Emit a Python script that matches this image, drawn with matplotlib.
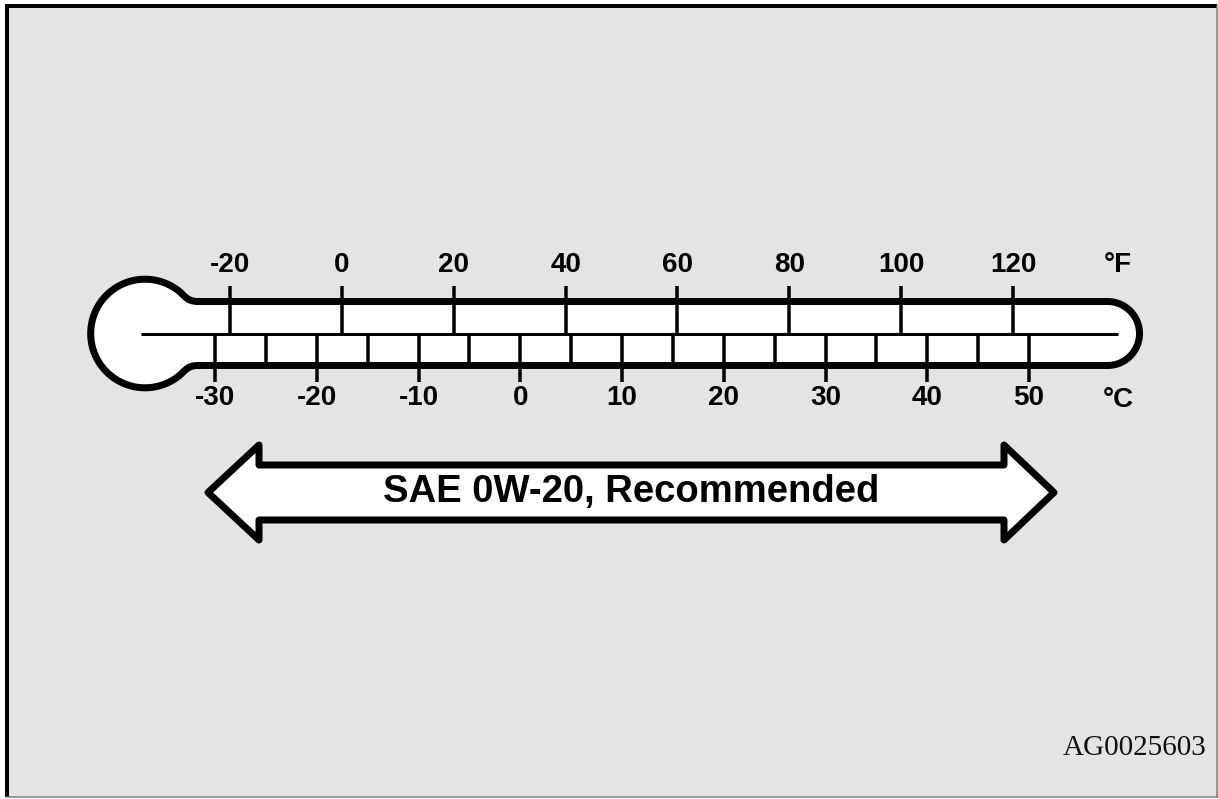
import numpy as np
import matplotlib
matplotlib.use("Agg")
import matplotlib.pyplot as plt
from matplotlib.path import Path
from matplotlib.patches import PathPatch, Rectangle, Polygon

# ---- data ----
fahrenheit_ticks = [-20, 0, 20, 40, 60, 80, 100, 120]
celsius_ticks = [-30, -25, -20, -15, -10, -5, 0, 5, 10, 15, 20, 25, 30, 35, 40, 45, 50]
celsius_labels = [-30, -20, -10, 0, 10, 20, 30, 40, 50]
unit_top = "°F"
unit_bottom = "°C"
arrow_text = "SAE 0W-20, Recommended"
code_text = "AG0025603"

# ---- scales (pixel positions of the scales on the drawing) ----
def f_to_x(f):
    return 230 + (f + 20) * 5.593

def c_to_x(c):
    return 215 + (c + 30) * 10.175

PX = 0.72  # px -> pt at dpi 100
FONT = "Liberation Sans"
BG = "#e4e4e4"
LABEL_SIZE = 20

fig = plt.figure(figsize=(12.18, 7.99), dpi=100)
fig.patch.set_facecolor("white")
ax = fig.add_axes([0, 0, 1, 1])
ax.set_xlim(0, 1218)
ax.set_ylim(799, 0)
ax.axis("off")

# background panel and border
ax.add_patch(Rectangle((7, 6), 1209.5, 790.7, facecolor=BG, edgecolor="none", zorder=0))
ax.plot([7, 7], [4, 797], color="black", lw=4 * PX, solid_capstyle="butt", zorder=1)
ax.plot([5, 1217], [6, 6], color="black", lw=4 * PX, solid_capstyle="butt", zorder=1)
ax.plot([1216.8, 1216.8], [6, 797], color="#7a7a7a", lw=1.5 * PX, zorder=1)
ax.plot([7, 1217], [796.8, 796.8], color="#7a7a7a", lw=1.5 * PX, zorder=1)

# ---- thermometer outline ----
cy = 333.5
top, bot = 301.5, 365.5
cx_b, r_b = 145.0, 54.3
cap_cx, cap_r = 1107.5, 32.0
neck_x = 198.0
a0 = np.deg2rad(52)
P_top = (cx_b + r_b * np.cos(a0), cy - r_b * np.sin(a0))
P_bot = (P_top[0], 2 * cy - P_top[1])
k = 8.0

verts = [(neck_x, top)]
codes = [Path.MOVETO]
verts += [(neck_x - 11, top), (P_top[0] + k * np.sin(a0), P_top[1] + k * np.cos(a0)), P_top]
codes += [Path.CURVE4] * 3
ang = np.linspace(a0, 2 * np.pi - a0, 120)
for a in ang[1:]:
    verts.append((cx_b + r_b * np.cos(a), cy - r_b * np.sin(a)))
    codes.append(Path.LINETO)
verts += [(P_bot[0] + k * np.sin(a0), P_bot[1] - k * np.cos(a0)), (neck_x - 11, bot), (neck_x, bot)]
codes += [Path.CURVE4] * 3
verts.append((cap_cx, bot))
codes.append(Path.LINETO)
tt = np.linspace(-np.pi / 2, np.pi / 2, 80)
for t in tt[1:]:
    verts.append((cap_cx + cap_r * np.cos(t), cy - cap_r * np.sin(t)))
    codes.append(Path.LINETO)
verts.append((neck_x, top))
codes.append(Path.CLOSEPOLY)
ax.add_patch(PathPatch(Path(verts, codes), facecolor="white", edgecolor="black",
                       lw=7 * PX, joinstyle="round", zorder=2))

# center line
ax.plot([141, 1118], [cy, cy], color="black", lw=3 * PX, solid_capstyle="butt", zorder=3)

# Fahrenheit ticks and labels
for f in fahrenheit_ticks:
    x = f_to_x(f)
    ax.plot([x, x], [286, cy], color="black", lw=3.5 * PX, solid_capstyle="butt", zorder=3)
    ax.text(x, 265, str(f), ha="center", va="center", fontsize=LABEL_SIZE, fontweight="bold",
            family=FONT, color="black", zorder=4)
ax.text(1118, 265, unit_top, ha="center", va="center", fontsize=LABEL_SIZE, fontweight="bold",
        family=FONT, color="black", zorder=4)

# Celsius ticks and labels
for c in celsius_ticks:
    x = c_to_x(c)
    y1 = 382 if c in celsius_labels else bot
    ax.plot([x, x], [cy, y1], color="black", lw=3.5 * PX, solid_capstyle="butt", zorder=3)
for c in celsius_labels:
    ax.text(c_to_x(c), 398, str(c), ha="center", va="center", fontsize=LABEL_SIZE, fontweight="bold",
            family=FONT, color="black", zorder=4)
ax.text(1118, 400, unit_bottom, ha="center", va="center", fontsize=LABEL_SIZE, fontweight="bold",
        family=FONT, color="black", zorder=4)

# ---- double arrow ----
ay = 492.5
arrow = [(208, ay), (259, 445), (259, 465), (1004, 465), (1004, 445), (1054, ay),
         (1004, 540), (1004, 520), (259, 520), (259, 540)]
ax.add_patch(Polygon(arrow, closed=True, facecolor="white", edgecolor="black",
                     lw=7 * PX, joinstyle="round", zorder=2))
ax.text(631, ay, arrow_text, ha="center", va="center", fontsize=27.5, fontweight="bold",
        family=FONT, color="black", zorder=4)

# code
ax.text(1206, 748, code_text, ha="right", va="center", fontsize=21,
        family="Liberation Serif", color="#111111", zorder=4)

fig.savefig("out.png", dpi=100, facecolor=fig.get_facecolor())
